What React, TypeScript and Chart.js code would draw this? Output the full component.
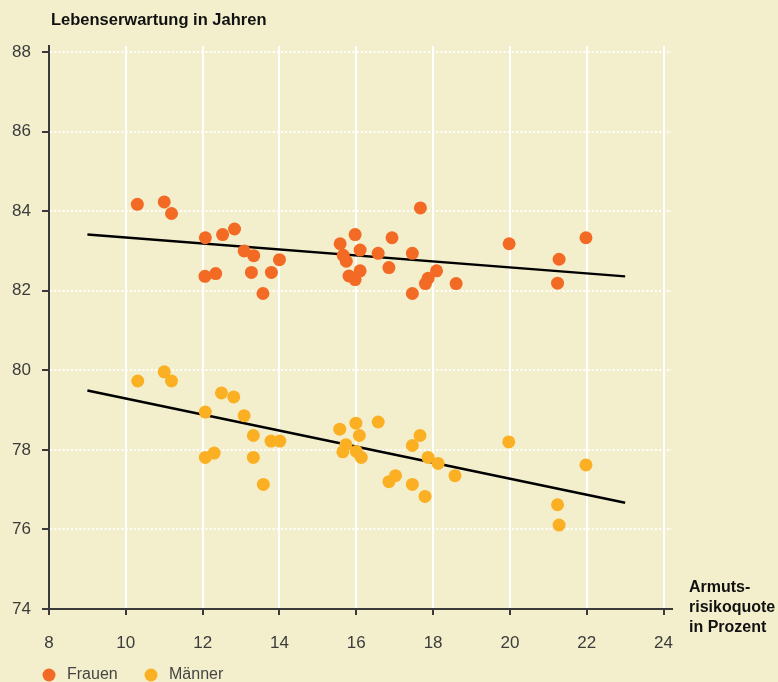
import React, { useEffect, useRef } from "react";
import { Chart, registerables } from "chart.js";

Chart.register(...registerables);

const frauenX = [10.3, 11.0, 11.19, 12.07, 12.52, 12.83, 13.08, 13.33, 14.0, 12.06, 12.34, 13.27, 13.79, 13.57, 17.67, 15.97, 15.58, 16.93, 15.66, 15.74, 16.1, 16.57, 17.46, 16.85, 16.1, 15.81, 15.97, 18.09, 17.87, 17.8, 18.6, 17.46, 19.98, 21.98, 21.28, 21.24];
const frauenY = [84.17, 84.23, 83.94, 83.33, 83.41, 83.55, 83.0, 82.88, 82.78, 82.36, 82.43, 82.46, 82.46, 81.93, 84.08, 83.41, 83.18, 83.33, 82.89, 82.74, 83.02, 82.94, 82.94, 82.58, 82.5, 82.37, 82.28, 82.5, 82.31, 82.18, 82.18, 81.93, 83.18, 83.33, 82.79, 82.19];
const maennerX = [10.31, 11.0, 11.19, 12.49, 12.81, 12.07, 13.08, 13.32, 13.78, 14.01, 12.07, 12.3, 13.32, 13.58, 15.57, 15.99, 16.57, 16.08, 15.73, 15.65, 16.0, 16.13, 17.66, 17.46, 17.87, 18.13, 18.57, 17.02, 16.85, 17.46, 17.79, 19.97, 21.98, 21.24, 21.28];
const maennerY = [79.73, 79.96, 79.73, 79.43, 79.33, 78.95, 78.86, 78.36, 78.22, 78.22, 77.81, 77.92, 77.81, 77.13, 78.52, 78.67, 78.7, 78.36, 78.13, 77.95, 77.96, 77.81, 78.36, 78.11, 77.81, 77.66, 77.35, 77.35, 77.2, 77.13, 76.83, 78.2, 77.62, 76.62, 76.11];
const trendX = [9, 23];
const frauenTrend = [83.41, 82.36];
const maennerTrend = [79.49, 76.67];
const xTicks = [8, 10, 12, 14, 16, 18, 20, 22, 24];
const yTicks = [74, 76, 78, 80, 82, 84, 86, 88];
const seriesNames = ["Frauen", "Männer"];
const yTitle = "Lebenserwartung in Jahren";
const xTitle = ["Armuts-", "risikoquote", "in Prozent"];

const BG = "#F3EFCC";
const C_F = "#F26A24";
const C_M = "#FBB024";
const AXIS = "#3a3a3a";
const FONT = "'Liberation Sans', Arial, sans-serif";

export default function App() {
  const ref = useRef<HTMLCanvasElement | null>(null);
  useEffect(() => {
    if (!ref.current) return;
    const pts = (xs: number[], ys: number[]) => xs.map((x, i) => ({ x, y: ys[i] }));
    const deco = {
      id: "deco",
      beforeDraw(chart: any) {
        const ctx = chart.ctx;
        ctx.save();
        ctx.fillStyle = BG;
        ctx.fillRect(0, 0, chart.width, chart.height);
        ctx.restore();
      },
      afterDraw(chart: any) {
        const ctx = chart.ctx;
        ctx.save();
        ctx.fillStyle = "#111";
        ctx.font = `bold 16.5px ${FONT}`;
        ctx.textBaseline = "middle";
        ctx.textAlign = "left";
        ctx.fillText(yTitle, 51, 20);
        ctx.font = `bold 16px ${FONT}`;
        xTitle.forEach((t, i) => ctx.fillText(t, 689, 588 + i * 20));
        // legend
        const cols = [C_F, C_M];
        const lx = [49, 151];
        ctx.font = `16px ${FONT}`;
        seriesNames.forEach((n, i) => {
          ctx.fillStyle = cols[i];
          ctx.beginPath();
          ctx.arc(lx[i], 675, 6.5, 0, Math.PI * 2);
          ctx.fill();
          ctx.fillStyle = "#444";
          ctx.fillText(n, lx[i] + 18, 675);
        });
        ctx.restore();
      },
    };
    const chart = new Chart(ref.current, {
      type: "scatter",
      data: {
        datasets: [
          { label: seriesNames[0], data: pts(frauenX, frauenY), backgroundColor: C_F, borderWidth: 0, pointRadius: 6.5, order: 0 },
          { label: seriesNames[1], data: pts(maennerX, maennerY), backgroundColor: C_M, borderWidth: 0, pointRadius: 6.5, order: 0 },
          { type: "line", label: "t1", data: pts(trendX, frauenTrend), borderColor: "#000", borderWidth: 2.5, pointRadius: 0, showLine: true, order: 1 } as any,
          { type: "line", label: "t2", data: pts(trendX, maennerTrend), borderColor: "#000", borderWidth: 2.5, pointRadius: 0, showLine: true, order: 1 } as any,
        ],
      },
      options: {
        responsive: false,
        animation: false,
        layout: { padding: { top: 46, right: 106, left: 0, bottom: 0 } },
        plugins: { legend: { display: false }, tooltip: { enabled: false } },
        scales: {
          x: {
            type: "linear",
            min: 8,
            max: 24.22,
            afterBuildTicks: (s: any) => { s.ticks = xTicks.map((v) => ({ value: v })); },
            afterFit: (s: any) => { s.height = 73; },
            grid: { color: "#ffffff", lineWidth: 2, tickColor: AXIS, tickLength: 6, tickWidth: 2 },
            border: { color: AXIS, width: 2 },
            ticks: { font: { size: 17, family: FONT }, color: "#3c3c3c", padding: 18, maxRotation: 0, autoSkip: false },
          },
          y: {
            type: "linear",
            min: 74,
            max: 88.15,
            afterBuildTicks: (s: any) => { s.ticks = yTicks.map((v) => ({ value: v })); },
            afterFit: (s: any) => { s.width = 49; },
            grid: { color: "#ffffff", lineWidth: 2, tickColor: AXIS, tickLength: 7, tickWidth: 2 },
            border: { color: AXIS, width: 2, dash: [2, 2.2] },
            ticks: { font: { size: 17, family: FONT }, color: "#3c3c3c", padding: 11, autoSkip: false },
          },
        },
      } as any,
      plugins: [deco],
    });
    return () => chart.destroy();
  }, []);
  return (
    <div style={{ position: "absolute", left: 0, top: 0, width: 778, height: 682, background: BG }}>
      <canvas ref={ref} width={778} height={682} style={{ display: "block" }} />
    </div>
  );
}
